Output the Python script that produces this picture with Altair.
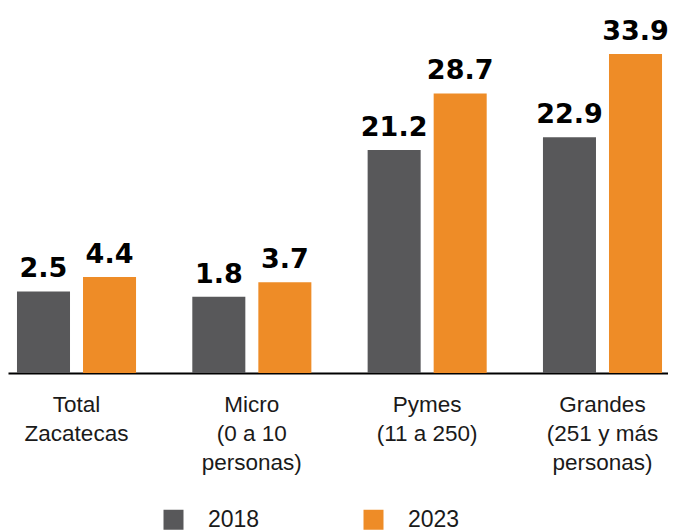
import altair as alt
import pandas as pd

categories = ["Total\nZacatecas", "Micro\n(0 a 10\npersonas)", "Pymes\n(11 a 250)", "Grandes\n(251 y más\npersonas)"]
years = ["2018", "2023"]
values_2018 = [2.5, 1.8, 21.2, 22.9]
values_2023 = [4.4, 3.7, 28.7, 33.9]
colors = ["#58585A", "#EE8C27"]

rows = []
for c, a, b in zip(categories, values_2018, values_2023):
    rows.append({"cat": c, "year": years[0], "value": a})
    rows.append({"cat": c, "year": years[1], "value": b})
df = pd.DataFrame(rows)

W, H = 663, 365
y_domain = [-8.3, 40]

x_enc = alt.X(
    "cat:N", sort=categories, title=None,
    scale=alt.Scale(paddingInner=0.2185, paddingOuter=0),
    axis=alt.Axis(
        labelExpr="split(datum.label, '\\n')", labelAngle=0, ticks=False, tickSize=0,
        domainColor="#000000", domainWidth=2, labelFont="Liberation Sans", labelFontSize=22.5,
        labelColor="#1a1a1a", labelLineHeight=29, labelPadding=20, labelBaseline="top",
        labelLimit=300,
    ),
)
xo_enc = alt.XOffset("year:N", sort=years, scale=alt.Scale(paddingInner=0.197, paddingOuter=0.136))
y_scale = alt.Scale(domain=y_domain, nice=False, zero=False)

bars = alt.Chart(df).mark_bar().encode(
    x=x_enc,
    xOffset=xo_enc,
    y=alt.Y("value:Q", scale=y_scale, axis=None),
    y2=alt.datum(y_domain[0]),
    color=alt.Color(
        "year:N", sort=years,
        scale=alt.Scale(domain=years, range=colors),
        legend=alt.Legend(
            title=None, orient="none", legendX=154, legendY=500, direction="horizontal",
            symbolType="square", symbolSize=400, symbolStrokeWidth=0, symbolOpacity=1,
            labelFont="Liberation Sans", labelFontSize=23, labelColor="#1a1a1a",
            labelOffset=23, columnPadding=102, padding=0,
        ),
    ),
)

labels = alt.Chart(df).mark_text(
    font="DejaVu Sans", fontWeight="bold", fontSize=27, baseline="alphabetic", dy=-14, color="#000000"
).encode(
    x=x_enc,
    xOffset=xo_enc,
    y=alt.Y("value:Q", scale=y_scale, axis=None),
    text=alt.Text("value:Q", format=".1f"),
)

chart = alt.layer(bars, labels).properties(
    width=W, height=H, padding={"left": 0, "top": 0, "right": -3, "bottom": 0}, background="white"
).configure_view(stroke=None)

chart.save("out.html", embed_options={"renderer": "svg", "actions": False})
